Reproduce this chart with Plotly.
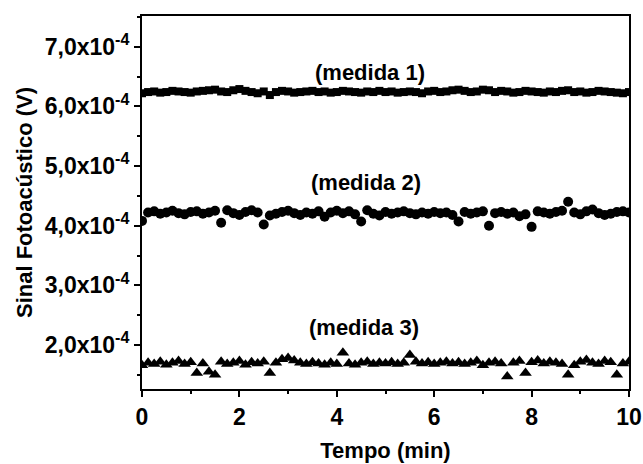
import plotly.graph_objects as go

# Time (min)
tempo = [0.0, 0.125, 0.25, 0.375, 0.5, 0.625, 0.75, 0.875, 1.0, 1.125,
         1.25, 1.375, 1.5, 1.625, 1.75, 1.875, 2.0, 2.125, 2.25, 2.375,
         2.5, 2.625, 2.75, 2.875, 3.0, 3.125, 3.25, 3.375, 3.5, 3.625,
         3.75, 3.875, 4.0, 4.125, 4.25, 4.375, 4.5, 4.625, 4.75, 4.875,
         5.0, 5.125, 5.25, 5.375, 5.5, 5.625, 5.75, 5.875, 6.0, 6.125,
         6.25, 6.375, 6.5, 6.625, 6.75, 6.875, 7.0, 7.125, 7.25, 7.375,
         7.5, 7.625, 7.75, 7.875, 8.0, 8.125, 8.25, 8.375, 8.5, 8.625,
         8.75, 8.875, 9.0, 9.125, 9.25, 9.375, 9.5, 9.625, 9.75, 9.875,
         10.0]

# Signal (x1e-4 V)
medida1 = [6.22, 6.24, 6.25, 6.23, 6.24, 6.26, 6.25, 6.24, 6.23, 6.25,
           6.26, 6.27, 6.28, 6.25, 6.24, 6.27, 6.29, 6.26, 6.24, 6.22,
           6.25, 6.19, 6.24, 6.26, 6.25, 6.23, 6.24, 6.25, 6.26, 6.24,
           6.25, 6.23, 6.24, 6.26, 6.25, 6.24, 6.23, 6.25, 6.24, 6.26,
           6.24, 6.25, 6.23, 6.24, 6.25, 6.24, 6.22, 6.25, 6.26, 6.24,
           6.25, 6.27, 6.28, 6.26, 6.24, 6.25, 6.28, 6.27, 6.24, 6.26,
           6.25, 6.23, 6.24, 6.26, 6.25, 6.24, 6.23, 6.25, 6.24, 6.26,
           6.27, 6.24, 6.25, 6.23, 6.24, 6.26, 6.25, 6.24, 6.23, 6.22,
           6.24]

medida2 = [4.08, 4.22, 4.24, 4.20, 4.22, 4.25, 4.21, 4.19, 4.23, 4.24,
           4.20, 4.22, 4.25, 4.05, 4.26, 4.21, 4.18, 4.23, 4.26, 4.22,
           4.02, 4.17, 4.20, 4.23, 4.25, 4.21, 4.18, 4.22, 4.20, 4.24,
           4.15, 4.22, 4.25, 4.21, 4.24, 4.19, 4.07, 4.26, 4.20, 4.17,
           4.23, 4.20, 4.22, 4.24, 4.21, 4.19, 4.22, 4.20, 4.23, 4.21,
           4.22, 4.18, 4.07, 4.23, 4.20, 4.22, 4.24, 4.00, 4.21, 4.23,
           4.20, 4.22, 4.16, 4.19, 3.98, 4.24, 4.22, 4.20, 4.23, 4.25,
           4.40, 4.22, 4.19, 4.24, 4.27, 4.21, 4.18, 4.20, 4.23, 4.24,
           4.22]

medida3 = [1.66, 1.70, 1.68, 1.72, 1.67, 1.70, 1.73, 1.68, 1.71, 1.53,
           1.69, 1.55, 1.50, 1.72, 1.68, 1.70, 1.73, 1.67, 1.71, 1.69,
           1.72, 1.53, 1.70, 1.76, 1.78, 1.74, 1.70, 1.68, 1.71, 1.69,
           1.67, 1.70, 1.68, 1.87, 1.69, 1.67, 1.70, 1.72, 1.68, 1.70,
           1.69, 1.71, 1.68, 1.70, 1.83, 1.72, 1.69, 1.71, 1.68, 1.70,
           1.72, 1.69, 1.71, 1.68, 1.70, 1.73, 1.66, 1.70, 1.72, 1.69,
           1.47, 1.70, 1.73, 1.53, 1.71, 1.74, 1.69, 1.72, 1.70, 1.68,
           1.50, 1.66, 1.72, 1.75, 1.70, 1.68, 1.73, 1.71, 1.50, 1.69,
           1.72]

ytick_vals = [2.0, 3.0, 4.0, 5.0, 6.0, 7.0]
ytick_text = ["2,0x10<sup>-4</sup>", "3,0x10<sup>-4</sup>", "4,0x10<sup>-4</sup>",
              "5,0x10<sup>-4</sup>", "6,0x10<sup>-4</sup>", "7,0x10<sup>-4</sup>"]
yminor_vals = [1.5, 2.5, 3.5, 4.5, 5.5, 6.5, 7.5]
xtick_vals = [0, 2, 4, 6, 8, 10]
xtick_text = ["0", "2", "4", "6", "8", "10"]

labels = ["(medida 1)", "(medida 2)", "(medida 3)"]
label_x = [4.69, 4.6, 4.55]
label_y = [6.56, 4.73, 2.30]

scale = 1e-4
FONT = "Liberation Sans, Arial, sans-serif"

fig = go.Figure()
fig.add_trace(go.Scatter(x=tempo, y=[v * scale for v in medida1], mode="markers",
                         marker=dict(symbol="square", size=8, color="black")))
fig.add_trace(go.Scatter(x=tempo, y=[v * scale for v in medida2], mode="markers",
                         marker=dict(symbol="circle", size=10, color="black")))
fig.add_trace(go.Scatter(x=tempo, y=[v * scale for v in medida3], mode="markers",
                         marker=dict(symbol="triangle-up", size=11, color="black")))

for t, xx, yy in zip(labels, label_x, label_y):
    fig.add_annotation(x=xx, y=yy * scale, text="<b>" + t + "</b>", showarrow=False,
                       font=dict(family=FONT, size=22, color="black"))

axis_common = dict(showline=True, linecolor="black", linewidth=2, mirror=True,
                   ticks="outside", ticklen=6, tickwidth=2, tickcolor="black",
                   showgrid=False, zeroline=False,
                   tickfont=dict(family=FONT, size=23, color="black"))

fig.update_xaxes(range=[0, 10], tickvals=xtick_vals, ticktext=["<b>" + t + "</b>" for t in xtick_text],
                 minor=dict(ticks="outside", ticklen=3, tickwidth=1.5, tickcolor="black", dtick=1),
                 title=dict(text="<b>Tempo (min)</b>", font=dict(family=FONT, size=22, color="black"),
                            standoff=14),
                 **axis_common)
fig.update_yaxes(range=[1.262e-4, 7.515e-4], tickvals=[v * scale for v in ytick_vals],
                 ticktext=["<b>" + t + "</b>" for t in ytick_text],
                 minor=dict(ticks="outside", ticklen=3, tickwidth=1.5, tickcolor="black",
                            tickvals=[v * scale for v in yminor_vals]),
                 title=dict(text="<b>Sinal Fotoacústico (V)</b>", font=dict(family=FONT, size=22, color="black"),
                            standoff=6),
                 **axis_common)

fig.update_layout(width=643, height=464, showlegend=False,
                  plot_bgcolor="white", paper_bgcolor="white",
                  margin=dict(l=142, r=14, t=16, b=75, autoexpand=False))

fig.write_html("out.html", config={"displayModeBar": False},
               post_script="document.body.style.margin='0px';document.body.style.overflow='hidden';")
